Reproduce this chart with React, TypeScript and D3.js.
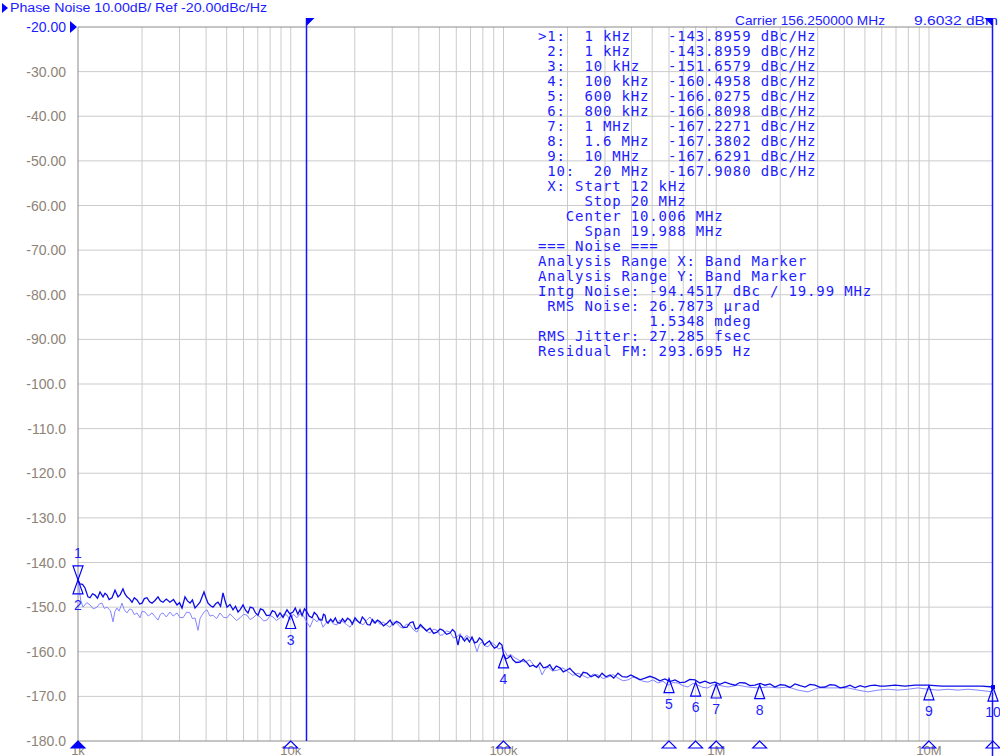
import React from 'react';
import * as d3 from 'd3';

// phase noise traces, [offset kHz, dBc/Hz]
const darkTrace: [number, number][] = [
  [1.0, -143.9], [1.022, -144.8], [1.05, -144.9], [1.079, -145.7], [1.114, -147.7], [1.139, -147.9], [1.17, -147.0],
  [1.202, -147.3], [1.235, -148.0], [1.269, -146.6], [1.311, -147.7], [1.34, -146.9], [1.369, -147.3], [1.4, -148.3],
  [1.445, -147.9], [1.493, -146.2], [1.542, -147.7], [1.58, -147.2], [1.627, -145.9], [1.66, -147.0], [1.699, -147.7],
  [1.75, -148.2], [1.794, -148.9], [1.84, -147.9], [1.894, -148.4], [1.95, -149.3], [2.0, -149.1], [2.05, -148.1],
  [2.11, -147.9], [2.17, -148.8], [2.228, -149.1], [2.3, -148.5], [2.377, -147.7], [2.44, -148.6], [2.509, -148.9],
  [2.6, -148.2], [2.706, -148.9], [2.81, -148.3], [2.92, -149.5], [3.0, -149.0], [3.083, -150.2], [3.184, -147.7],
  [3.27, -148.6], [3.362, -149.1], [3.45, -148.4], [3.548, -150.2], [3.64, -149.6], [3.745, -148.9], [3.911, -146.6],
  [4.0, -148.0], [4.085, -149.1], [4.2, -149.7], [4.311, -150.0], [4.45, -149.2], [4.551, -148.9], [4.68, -149.8],
  [4.804, -146.8], [4.9, -148.4], [5.016, -150.0], [5.18, -149.4], [5.355, -150.6], [5.5, -149.8], [5.652, -151.1],
  [5.8, -150.5], [5.966, -149.5], [6.13, -150.7], [6.297, -151.3], [6.45, -150.0], [6.648, -150.2], [6.83, -151.3],
  [7.018, -151.8], [7.2, -150.4], [7.408, -150.6], [7.7, -151.9], [7.99, -151.8], [8.2, -150.8], [8.433, -151.1],
  [8.65, -152.2], [8.903, -151.3], [9.2, -152.3], [9.603, -150.6], [9.9, -151.5], [10.25, -151.1], [10.5, -150.2],
  [10.8, -151.6], [11.05, -150.6], [11.3, -151.9], [11.6, -150.4], [11.93, -151.1], [12.2, -152.0], [12.59, -152.4],
  [12.9, -151.2], [13.29, -151.8], [13.6, -152.8], [14.03, -152.9], [14.25, -151.6], [14.49, -151.8], [14.7, -153.2],
  [14.97, -153.6], [15.4, -152.7], [15.8, -153.3], [16.2, -152.4], [16.6, -153.5], [17.04, -153.6], [17.5, -152.6],
  [17.99, -153.3], [18.5, -152.5], [19.0, -152.9], [19.5, -153.8], [20.05, -152.4], [20.6, -153.1], [21.17, -153.6],
  [21.7, -152.2], [22.34, -152.9], [22.9, -153.9], [23.58, -154.0], [24.2, -152.8], [24.9, -153.6], [25.6, -152.9],
  [26.28, -153.3], [27.3, -154.2], [28.35, -153.6], [29.3, -152.9], [30.25, -154.0], [31.4, -153.2], [32.63, -153.6],
  [33.9, -154.6], [35.2, -154.5], [36.4, -153.5], [37.56, -153.3], [38.6, -154.9], [39.65, -154.7], [40.7, -153.9],
  [41.85, -154.5], [43.5, -155.3], [45.14, -154.7], [46.9, -155.9], [48.7, -155.6], [50.3, -154.9], [51.96, -155.2],
  [54.0, -156.1], [56.06, -155.8], [57.6, -155.0], [59.17, -155.6], [60.1, -157.0], [61.12, -158.5], [62.4, -156.4],
  [63.83, -156.7], [65.6, -157.6], [67.38, -156.9], [69.2, -157.8], [71.12, -156.7], [73.1, -158.0], [75.09, -157.8],
  [77.1, -156.9], [79.25, -157.4], [81.4, -158.5], [83.66, -158.0], [86.0, -157.6], [88.32, -158.5], [90.7, -159.2],
  [93.22, -158.9], [95.7, -158.0], [98.4, -158.5], [100, -160.5], [102.5, -161.6], [105, -161.4], [107.9, -160.9],
  [110.8, -161.8], [114.5, -162.4], [119.6, -162.3], [124, -161.7], [129, -162.5], [133, -163.3], [137.6, -163.0],
  [143, -163.5], [148.5, -162.5], [154, -163.6], [160.2, -163.4], [165, -162.9], [170.9, -164.1], [177, -163.2],
  [184.4, -163.6], [191, -164.5], [198.9, -164.1], [205, -163.7], [212.3, -164.5], [220, -165.2], [228.9, -165.7],
  [237, -164.6], [247, -164.8], [258, -165.6], [269.3, -165.2], [280, -165.8], [290.5, -164.8], [303, -165.6],
  [316.7, -165.2], [330, -165.9], [345.4, -164.8], [362, -165.6], [380.7, -165.7], [397, -165.2], [415.2, -165.7],
  [438, -166.3], [462.7, -165.9], [488, -165.5], [515.5, -165.9], [543, -166.5], [574.3, -166.1], [606, -166.7],
  [640.2, -166.3], [676, -166.9], [713.3, -166.8], [752, -166.2], [794.6, -166.3], [838, -167.0], [885.5, -166.6],
  [934, -167.1], [986.7, -166.8], [1040, -167.3], [1100, -166.8], [1160, -167.2], [1225, -167.5], [1290, -166.9],
  [1365, -167.0], [1440, -167.6], [1521, -167.5], [1610, -167.1], [1696, -167.5], [1790, -167.2], [1889, -167.9],
  [2000, -167.4], [2105, -167.5], [2220, -168.0], [2346, -167.2], [2480, -167.6], [2615, -167.9], [2760, -167.3],
  [2913, -167.5], [3080, -168.0], [3246, -167.9], [3430, -167.4], [3617, -167.5], [3820, -168.1], [4030, -167.9],
  [4250, -167.5], [4491, -168.1], [4740, -167.6], [5004, -167.9], [5280, -167.6], [5576, -167.5], [5890, -167.7],
  [6214, -167.7], [6924, -167.5], [7715, -167.7], [8597, -167.5], [9895, -167.5], [11516, -167.7], [13260, -167.7],
  [15262, -167.7], [17762, -167.7], [20000, -167.9],
];

const lightTrace: [number, number][] = [
  [1.0, -143.9], [1.03, -148.5], [1.055, -150.0], [1.1, -149.0], [1.139, -149.5], [1.18, -150.4], [1.228, -150.0],
  [1.26, -149.3], [1.297, -149.1], [1.33, -150.3], [1.369, -150.0], [1.42, -150.8], [1.461, -153.3], [1.49, -151.0],
  [1.525, -150.2], [1.56, -150.9], [1.61, -149.1], [1.65, -150.6], [1.699, -151.3], [1.75, -150.4], [1.794, -150.6],
  [1.84, -151.7], [1.894, -151.3], [1.956, -152.4], [2.0, -150.9], [2.065, -151.1], [2.14, -152.0], [2.228, -151.3],
  [2.3, -152.1], [2.377, -152.9], [2.44, -151.6], [2.509, -151.3], [2.6, -152.2], [2.706, -151.1], [2.8, -152.0],
  [2.92, -151.3], [3.01, -152.3], [3.116, -152.4], [3.24, -151.1], [3.362, -151.3], [3.45, -152.6], [3.548, -152.4],
  [3.665, -155.2], [3.75, -152.5], [3.827, -151.8], [3.93, -151.0], [4.04, -150.6], [4.17, -152.0], [4.311, -151.8],
  [4.48, -152.6], [4.65, -151.3], [4.83, -152.3], [5.016, -152.4], [5.18, -151.5], [5.355, -152.2], [5.56, -153.0],
  [5.776, -152.4], [6.0, -151.6], [6.23, -151.8], [6.44, -152.8], [6.648, -152.4], [6.9, -151.7], [7.172, -152.2],
  [7.45, -153.1], [7.735, -152.9], [8.0, -151.9], [8.254, -152.2], [8.55, -153.0], [8.903, -152.4], [9.25, -151.6],
  [9.603, -151.8], [9.92, -152.9], [10.3, -151.6], [10.7, -152.4], [11.05, -151.5], [11.42, -151.8], [11.85, -153.2],
  [12.31, -154.5], [12.8, -152.6], [13.29, -153.3], [13.7, -152.4], [14.18, -154.5], [14.7, -153.5], [15.29, -152.9],
  [15.9, -153.8], [16.5, -154.0], [17.0, -152.9], [17.61, -153.3], [18.3, -153.9], [19.0, -154.5], [19.7, -153.2],
  [20.49, -152.9], [21.2, -153.5], [21.86, -154.0], [22.7, -153.0], [23.58, -152.2], [24.5, -153.5], [25.44, -152.9],
  [26.3, -153.9], [27.14, -153.3], [28.2, -154.0], [29.29, -154.5], [30.4, -153.3], [31.59, -153.6], [32.6, -154.4],
  [33.71, -154.7], [35.0, -153.8], [36.36, -154.0], [37.8, -155.1], [39.22, -155.6], [40.5, -154.3], [41.85, -154.7],
  [43.5, -155.4], [45.14, -155.8], [46.9, -154.9], [48.7, -155.2], [50.3, -156.3], [51.96, -156.2], [54.0, -155.3],
  [56.06, -155.6], [58.2, -156.9], [60.46, -156.7], [62.5, -155.9], [64.53, -157.4], [67.0, -156.3], [69.6, -156.9],
  [72.3, -157.6], [75.09, -160.0], [77.1, -158.3], [79.25, -157.8], [82.0, -158.7], [84.57, -158.9], [88.0, -157.9],
  [91.23, -158.5], [94.7, -159.4], [98.4, -159.1], [101.6, -160.0], [104.5, -161.0], [108, -160.6], [113.3, -161.4],
  [119.5, -162.0], [126.2, -162.3], [133, -161.8], [140.7, -163.4], [146, -163.0], [151.8, -165.2], [157, -163.9],
  [161.9, -163.4], [170, -164.3], [180.4, -164.1], [190, -163.6], [201.1, -164.5], [212, -165.3], [224.1, -164.8],
  [236, -165.3], [249.7, -165.9], [264, -165.0], [278.2, -165.2], [294, -166.0], [310, -165.7], [327, -165.1],
  [345.4, -165.9], [365, -166.5], [384.9, -166.3], [406, -165.7], [428.9, -165.9], [452, -166.6], [477.9, -166.8],
  [504, -166.3], [532.5, -167.0], [562, -166.6], [593.3, -167.5], [626, -166.9], [661.3, -167.0], [698, -167.6],
  [736.8, -167.9], [778, -167.1], [820.9, -167.5], [866, -168.0], [914.7, -168.1], [966, -167.4], [1019, -167.5],
  [1136, -167.9], [1266, -167.5], [1410, -167.9], [1572, -168.1], [1752, -167.9], [1952, -168.1], [2175, -167.9],
  [2424, -168.6], [2701, -169.0], [3009, -168.1], [3353, -168.1], [3736, -168.1], [4163, -168.1], [4639, -168.6],
  [5169, -169.0], [5760, -168.6], [6418, -168.4], [7152, -168.6], [7969, -168.4], [8880, -168.1], [9895, -168.4],
  [11030, -168.6], [12290, -168.4], [13693, -168.6], [15262, -168.4], [17007, -168.6], [20000, -169.0],
];

const markerFreqKHz = [1, 1, 10, 100, 600, 800, 1000, 1600, 10000, 20000];
const markerDb = [-143.8959, -143.8959, -151.6579, -160.4958, -166.0275, -166.8098, -167.2271, -167.3802, -167.6291, -167.908];

const yTicks = [-20, -30, -40, -50, -60, -70, -80, -90, -100, -110, -120, -130, -140, -150, -160, -170, -180];
const decadeFreqKHz = [1, 10, 100, 1000, 10000];
const decadeLabels = ['1k', '10k', '100k', '1M', '10M'];
const bandStartKHz = 12;
const bandStopKHz = 20000;

const infoLines = [
  '>1:  1 kHz    -143.8959 dBc/Hz',
  ' 2:  1 kHz    -143.8959 dBc/Hz',
  ' 3:  10 kHz   -151.6579 dBc/Hz',
  ' 4:  100 kHz  -160.4958 dBc/Hz',
  ' 5:  600 kHz  -166.0275 dBc/Hz',
  ' 6:  800 kHz  -166.8098 dBc/Hz',
  ' 7:  1 MHz    -167.2271 dBc/Hz',
  ' 8:  1.6 MHz  -167.3802 dBc/Hz',
  ' 9:  10 MHz   -167.6291 dBc/Hz',
  ' 10:  20 MHz  -167.9080 dBc/Hz',
  ' X: Start 12 kHz',
  '     Stop 20 MHz',
  '   Center 10.006 MHz',
  '     Span 19.988 MHz',
  '=== Noise ===',
  'Analysis Range X: Band Marker',
  'Analysis Range Y: Band Marker',
  'Intg Noise: -94.4517 dBc / 19.99 MHz',
  ' RMS Noise: 26.7873 \u00b5rad',
  '            1.5348 mdeg',
  'RMS Jitter: 27.285 fsec',
  'Residual FM: 293.695 Hz',
];

const W = 1000;
const H = 756;
const left = 78, right = 993, top = 27, bottom = 741;
const BLUE = '#0000ff';
const TXT_BLUE = '#1c1cff';
const GRID = '#cbcbcb';
const LABEL = '#8d8377';

const App: React.FC = () => {
  const x = d3.scaleLog().domain([1, 20000]).range([left, right]);
  const y = d3.scaleLinear().domain([-180, -20]).range([bottom, top]);

  const line = d3.line<[number, number]>()
    .x(d => x(d[0]))
    .y(d => y(d[1]));

  const vGrid = x.ticks().filter(t => t > 1 && t < 20000);
  const hGrid = yTicks.filter(t => t > -180 && t < -20);

  const fmt = (v: number) => (v > -100 ? v.toFixed(2) : v.toFixed(1));
  const bx1 = Math.floor(x(bandStartKHz)) - 0.5;
  const bx2 = Math.round(x(bandStopKHz)) - 0.5;

  return (
    <svg width={W} height={H} style={{ position: 'absolute', left: 0, top: 0, background: '#fff' }}>
      {/* header */}
      <path d="M2,3 L8,8 L2,13 Z" fill={BLUE} />
      <text x={10} y={12} fontFamily="Liberation Sans, sans-serif" fontSize={12.5} fill={TXT_BLUE}
        textLength={257} lengthAdjust="spacingAndGlyphs">Phase Noise 10.00dB/ Ref -20.00dBc/Hz</text>
      <text x={735} y={25} fontFamily="Liberation Sans, sans-serif" fontSize={13.5} fill={TXT_BLUE}
        textLength={150} lengthAdjust="spacingAndGlyphs">Carrier 156.250000 MHz</text>
      <text x={914} y={25} fontFamily="Liberation Sans, sans-serif" fontSize={13.5} fill={TXT_BLUE}
        textLength={84} lengthAdjust="spacingAndGlyphs">9.6032 dBm</text>

      {/* grid */}
      {vGrid.map(t => (
        <line key={'v' + t} x1={x(t)} x2={x(t)} y1={top} y2={bottom} stroke={GRID} strokeWidth={1} />
      ))}
      {hGrid.map(t => (
        <line key={'h' + t} x1={left} x2={right} y1={y(t)} y2={y(t)} stroke={GRID} strokeWidth={1} />
      ))}
      <line x1={left} x2={right} y1={top} y2={top} stroke="#8a8a8a" />
      <line x1={left} x2={right} y1={bottom} y2={bottom} stroke="#8a8a8a" />
      <line x1={left} x2={left} y1={top} y2={bottom} stroke="#8a8a8a" />

      {/* y labels */}
      {yTicks.map((t, i) => (
        <text key={'yl' + t} x={66} y={y(t) + 5} textAnchor="end" fontFamily="Liberation Sans, sans-serif"
          fontSize={14} fill={i === 0 ? TXT_BLUE : LABEL}>{fmt(t)}</text>
      ))}
      <path d={`M70,${top - 6} L77,${top} L70,${top + 6} Z`} fill={BLUE} />

      {/* x labels at bottom */}
      {decadeFreqKHz.map((f, i) => (
        <text key={'xl' + f} x={x(f)} y={755} textAnchor="middle" fontFamily="Liberation Sans, sans-serif"
          fontSize={13} fill={LABEL}>{decadeLabels[i]}</text>
      ))}

      {/* band markers */}
      <line x1={bx1} x2={bx1} y1={18} y2={bottom} stroke="#1414ff" strokeWidth={1.5} />
      <path d={`M${bx1},18 L${bx1 + 8},18 L${bx1},26 Z`} fill={BLUE} />
      <line x1={bx2} x2={bx2} y1={18} y2={H} stroke="#1414ff" strokeWidth={1.5} />
      <path d={`M${bx2},18 L${bx2 - 8},18 L${bx2},26 Z`} fill={BLUE} />

      {/* traces */}
      <path d={line(lightTrace) || ''} fill="none" stroke="#8585ff" strokeWidth={1} />
      <path d={line(darkTrace) || ''} fill="none" stroke="#0c0ce6" strokeWidth={1.3} />

      {/* markers */}
      {markerFreqKHz.map((f, i) => {
        const mx = x(f);
        const my = y(markerDb[i]);
        const down = i === 0;
        const tri = down
          ? `M${mx},${my} L${mx - 5},${my - 14} L${mx + 5},${my - 14} Z`
          : `M${mx},${my} L${mx - 5},${my + 14} L${mx + 5},${my + 14} Z`;
        return (
          <g key={'m' + i}>
            <path d={tri} fill="none" stroke={BLUE} strokeWidth={1.2} />
            <text x={mx} y={down ? my - 22 : my + 30} textAnchor="middle" fontFamily="Liberation Sans, sans-serif"
              fontSize={14} fill={TXT_BLUE}>{i + 1}</text>
          </g>
        );
      })}
      <rect x={x(20000) - 2} y={y(-167.908) - 2} width={4} height={4} fill={BLUE} />

      {/* bottom marker triangles */}
      {markerFreqKHz.map((f, i) => (
        i === 1 ? null : (
          <path key={'b' + i} d={`M${x(f)},${bottom} L${x(f) - 7},${bottom + 7} L${x(f) + 7},${bottom + 7} Z`}
            fill={i === 0 ? BLUE : 'none'} stroke={BLUE} strokeWidth={1.1} />
        )
      ))}

      {/* marker table */}
      {infoLines.map((s, i) => (
        <text key={'info' + i} x={538} y={41 + i * 15} fontFamily="DejaVu Sans Mono, monospace" fontSize={14}
          letterSpacing={0.85} fill={TXT_BLUE} style={{ whiteSpace: 'pre' }}>{s}</text>
      ))}
    </svg>
  );
};

export default App;
